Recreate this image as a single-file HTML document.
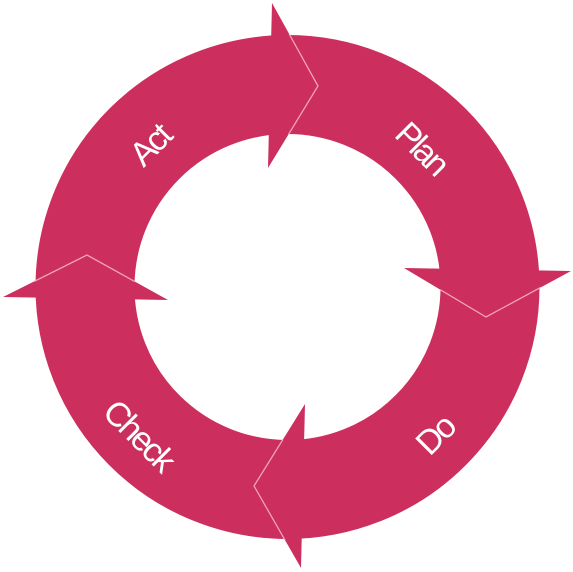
<!DOCTYPE html>
<html><head><style>
html,body{margin:0;padding:0;background:#fff;width:573px;height:572px;overflow:hidden}
text{font-family:"Liberation Sans",sans-serif;fill:#fff;font-size:34px;letter-spacing:-2.5px}
</style></head><body>
<svg width="573" height="572" viewBox="0 0 573 572">
<defs>
<clipPath id="ring"><path clip-rule="evenodd" d="M287.5,34a253,253 0 1,0 0.01,0ZM287.5,134a153,153 0 1,0 0.01,0Z"/></clipPath>
</defs>
<circle cx="287.5" cy="287" r="202.5" fill="none" stroke="#cc2e5e" stroke-width="99"/>
<g fill="#cc2e5e">
<polygon points="272,3 318,86 268,168"/>
<polygon points="404,268 486,317 571,271"/>
<polygon points="305,404 254,486 301,568"/>
<polygon points="168,300 87,255 3,297"/>
</g>
<g fill="none" stroke="#f2a2ba" stroke-width="1.3" clip-path="url(#ring)">
<polyline points="272,3 318,86 268,168"/>
<polyline points="404,268 486,317 571,271"/>
<polyline points="305,404 254,486 301,568"/>
<polyline points="168,300 87,255 3,297"/>
</g>
<text transform="translate(420,150) rotate(45)" text-anchor="middle" dominant-baseline="middle">Plan</text>
<text transform="translate(437,437) rotate(-45)" text-anchor="middle" dominant-baseline="middle">Do</text>
<text transform="translate(137,437) rotate(45)" text-anchor="middle" dominant-baseline="middle">Check</text>
<text transform="translate(152,147) rotate(-45)" text-anchor="middle" dominant-baseline="middle">Act</text>
</svg>
</body></html>
